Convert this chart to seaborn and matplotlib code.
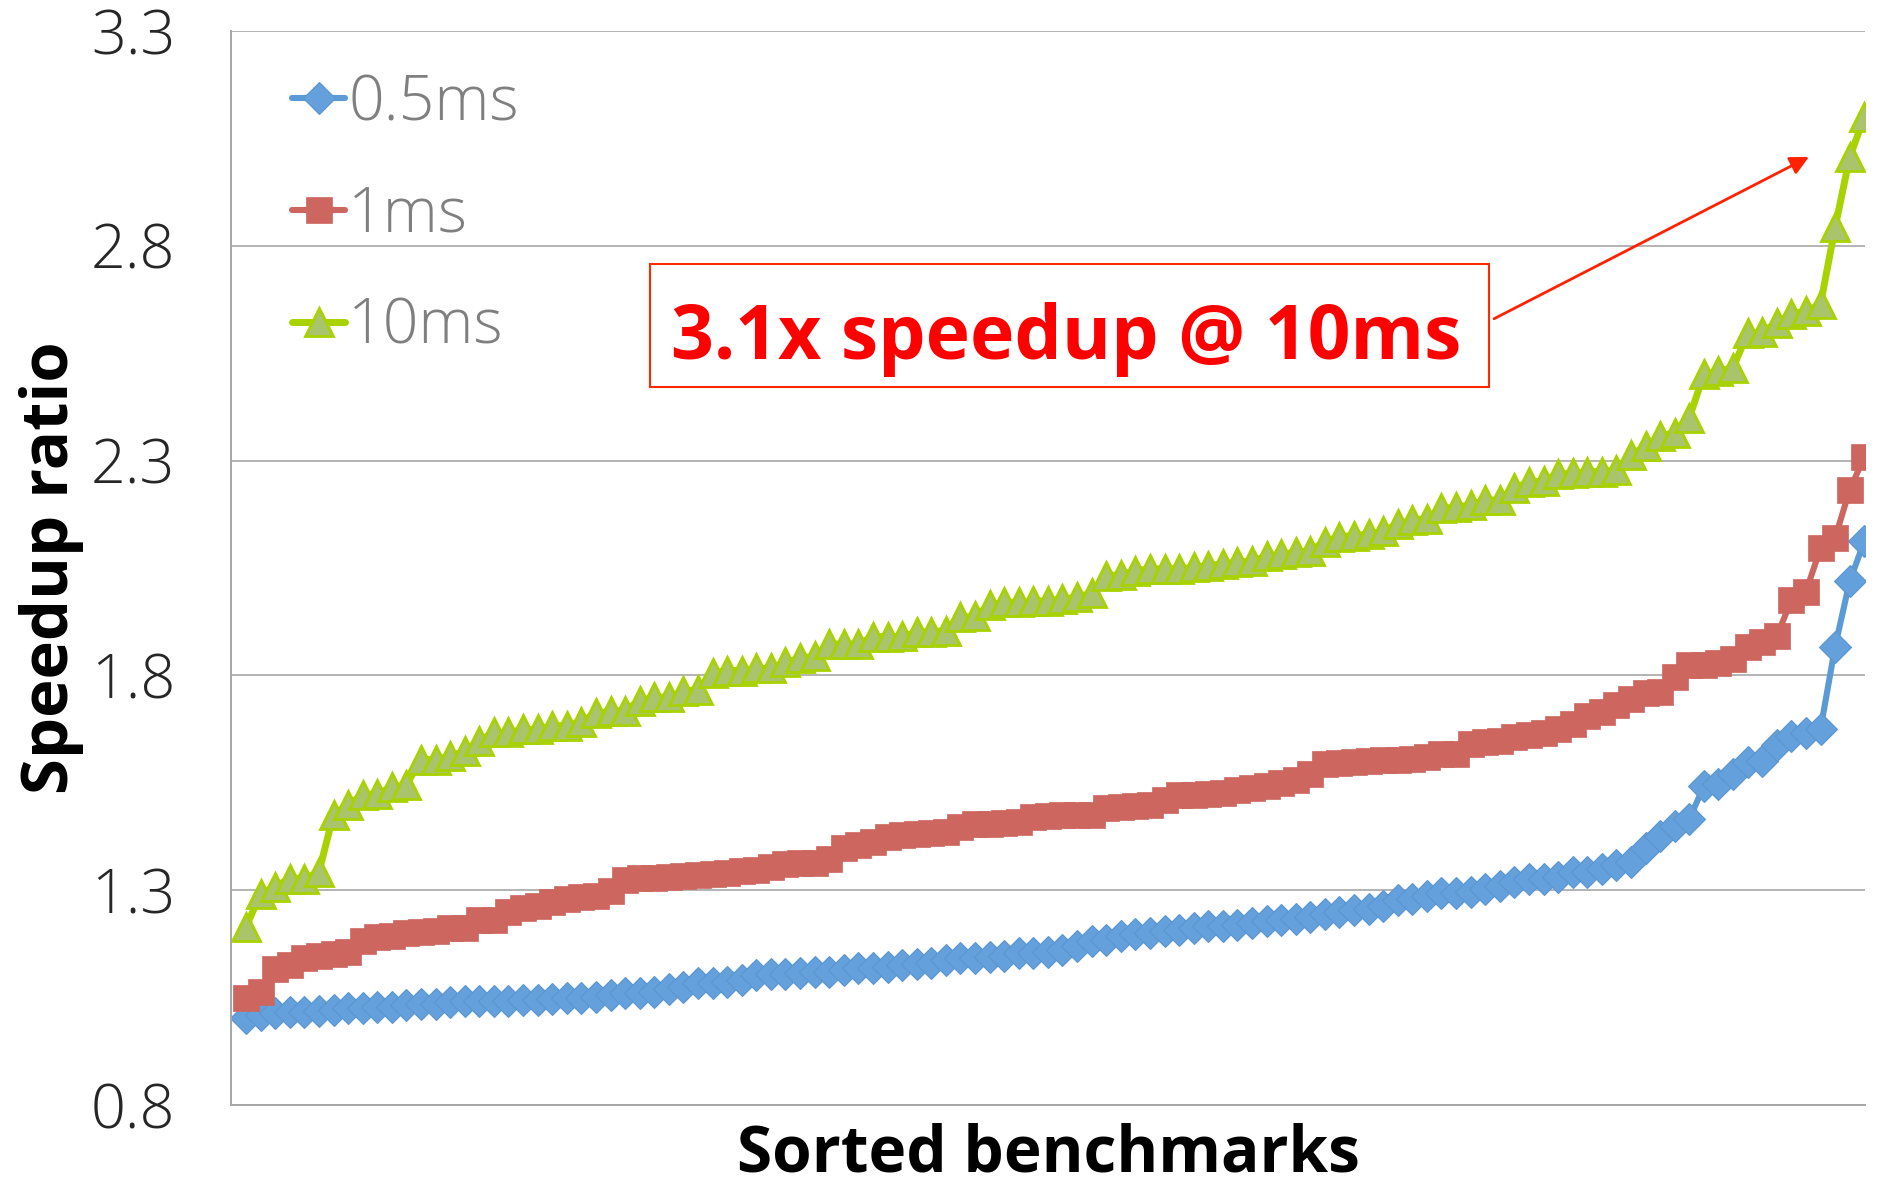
import numpy as np
import pandas as pd
import seaborn as sns
import matplotlib.pyplot as plt
from matplotlib.patches import Rectangle

# Speedup per benchmark (sorted ascending) for three time budgets
blue_05ms = [
    1.002, 1.009, 1.013, 1.017, 1.017, 1.019, 1.022, 1.025, 1.026, 1.029,
    1.029, 1.033, 1.035, 1.036, 1.040, 1.042, 1.042, 1.043, 1.043, 1.044,
    1.044, 1.046, 1.048, 1.050, 1.052, 1.056, 1.060, 1.061, 1.064, 1.069,
    1.075, 1.083, 1.084, 1.087, 1.091,
    1.102, 1.105, 1.105, 1.106, 1.109, 1.110, 1.114, 1.118, 1.118, 1.122,
    1.126, 1.127, 1.131, 1.137, 1.141, 1.141, 1.145, 1.147, 1.153, 1.153,
    1.157, 1.160, 1.170, 1.182, 1.184, 1.193, 1.199, 1.201, 1.205, 1.207,
    1.211, 1.216, 1.216, 1.219, 1.223, 1.229, 1.230, 1.233,
    1.237, 1.245, 1.250, 1.253, 1.257, 1.262, 1.278, 1.280, 1.286, 1.294,
    1.294, 1.295, 1.302, 1.310, 1.318, 1.326, 1.326, 1.330, 1.342, 1.342,
    1.350, 1.358, 1.366, 1.398, 1.426, 1.450, 1.466, 1.542, 1.546, 1.570,
    1.598, 1.600, 1.638, 1.658, 1.666, 1.675, 1.867, 2.019, 2.112,
]

red_1ms = [
    1.048, 1.063, 1.116, 1.125, 1.141, 1.147, 1.151, 1.156, 1.182, 1.190,
    1.193, 1.200, 1.203, 1.205, 1.211, 1.213, 1.230, 1.231, 1.248, 1.259,
    1.263, 1.273, 1.279, 1.283, 1.286, 1.297, 1.324, 1.328, 1.329, 1.331,
    1.333, 1.335, 1.337, 1.341, 1.345,
    1.347, 1.353, 1.360, 1.362, 1.364, 1.373, 1.398, 1.405, 1.412, 1.424,
    1.428, 1.430, 1.432, 1.436, 1.447, 1.453, 1.455, 1.457, 1.459, 1.470,
    1.473, 1.474, 1.474, 1.476, 1.491, 1.494, 1.496, 1.499, 1.509, 1.521,
    1.522, 1.523, 1.527, 1.533, 1.538, 1.543, 1.550, 1.556,
    1.570, 1.594, 1.596, 1.598, 1.601, 1.602, 1.604, 1.606, 1.610, 1.616,
    1.618, 1.640, 1.644, 1.646, 1.656, 1.660, 1.666, 1.676, 1.687, 1.705,
    1.715, 1.731, 1.745, 1.759, 1.761, 1.795, 1.823, 1.825, 1.829, 1.837,
    1.867, 1.877, 1.891, 1.975, 1.995, 2.096, 2.120, 2.232, 2.308,
]

green_10ms = [
    1.214, 1.292, 1.308, 1.327, 1.327, 1.342, 1.476, 1.499, 1.522, 1.524,
    1.540, 1.545, 1.604, 1.604, 1.612, 1.623, 1.648, 1.667, 1.667, 1.674,
    1.674, 1.683, 1.683, 1.692, 1.712, 1.716, 1.718, 1.741, 1.749, 1.749,
    1.764, 1.766, 1.805, 1.811, 1.811,
    1.816, 1.816, 1.830, 1.840, 1.844, 1.873, 1.873, 1.873, 1.890, 1.890,
    1.891, 1.900, 1.902, 1.904, 1.935, 1.937, 1.964, 1.970, 1.970, 1.972,
    1.974, 1.977, 1.982, 1.991, 2.032, 2.034, 2.044, 2.047, 2.048, 2.048,
    2.051, 2.055, 2.060, 2.063, 2.066, 2.077, 2.082, 2.086,
    2.090, 2.111, 2.123, 2.125, 2.129, 2.135, 2.153, 2.161, 2.165, 2.189,
    2.191, 2.197, 2.207, 2.209, 2.237, 2.249, 2.253, 2.268, 2.270, 2.274,
    2.274, 2.279, 2.314, 2.333, 2.357, 2.365, 2.400, 2.501, 2.508, 2.516,
    2.596, 2.599, 2.621, 2.641, 2.648, 2.664, 2.843, 3.006, 3.1,
]

series_labels = ["0.5ms", "1ms", "10ms"]
y_ticks = [0.8, 1.3, 1.8, 2.3, 2.8, 3.3]
callout_text = "3.1x speedup @ 10ms"

bench = np.arange(len(blue_05ms))
df = pd.DataFrame({
    "benchmark": np.tile(bench, 3),
    "speedup": blue_05ms + red_1ms + green_10ms,
    "budget": np.repeat(series_labels, len(bench)),
})

sns.set_theme(style="white")
plt.rcParams["font.family"] = ["Open Sans", "DejaVu Sans"]

fig = plt.figure(figsize=(18.89, 11.89), dpi=100)
ax = fig.add_axes([0.1223, 0.0707, 0.865, 0.9033])

styles = {
    "0.5ms": dict(color="#5b9bd5", marker="D", markersize=16.5,
                  markerfacecolor="#64a0dc", markeredgecolor="#5b96cf",
                  markeredgewidth=0.8, linewidth=4.4),
    "1ms": dict(color="#cd665f", marker="s", markersize=18.5,
                markerfacecolor="#cd665f", markeredgecolor="#cd665f",
                markeredgewidth=0.5, linewidth=4.4),
    "10ms": dict(color="#a8d200", marker="^", markersize=20.5,
                 markerfacecolor="#a9c46a", markeredgecolor="#a8d200",
                 markeredgewidth=2.0, linewidth=5.0),
}

for name in series_labels:
    sub = df[df["budget"] == name]
    sns.lineplot(data=sub, x="benchmark", y="speedup", ax=ax,
                 label=name, **styles[name])

ax.set_xlim(-1.03, len(bench) - 1 + 0.05)
ax.set_ylim(0.8, 3.3)
ax.set_yticks(y_ticks)
ax.set_yticklabels([f"{v:.1f}" for v in y_ticks])
ax.set_xticks([])

ax.yaxis.grid(True, color="#b3b3b3", linewidth=1.4)
ax.set_axisbelow(True)
for side in ("top", "right"):
    ax.spines[side].set_visible(False)
for side in ("left", "bottom"):
    ax.spines[side].set_color("#a6a6a6")
    ax.spines[side].set_linewidth(1.4)

ax.tick_params(axis="y", length=0, pad=40, labelsize=44)
for lbl in ax.get_yticklabels():
    lbl.set_fontweight("light")

ax.set_xlabel("Sorted benchmarks", fontsize=46, fontweight="bold",
              color="black", labelpad=13)
ax.set_ylabel("Speedup ratio", fontsize=47, fontweight="bold",
              color="black")
ax.yaxis.set_label_coords(-0.090, 0.5)

leg = ax.legend(loc="upper left", bbox_to_anchor=(0.022, 0.985),
                frameon=False, fontsize=45, handlelength=0.85,
                handletextpad=0.05, labelspacing=0.78, borderaxespad=0)
for t in leg.get_texts():
    t.set_color("#7f7f7f")
    t.set_fontweight("light")

# Callout box with arrow pointing at the top of the 10ms curve
ax.add_patch(Rectangle((0.2564, 0.6685), 0.5135, 0.1145,
                       transform=ax.transAxes, facecolor="white",
                       edgecolor="#ff2a00", linewidth=1.5, zorder=5))
ax.text(0.5114, 0.6946, callout_text, transform=ax.transAxes,
        ha="center", va="baseline", fontsize=54, fontweight="bold",
        color="#ff0000", zorder=6)
ax.annotate("", xy=(0.9657, 0.8827), xytext=(0.773, 0.732),
            xycoords="axes fraction", textcoords="axes fraction",
            arrowprops=dict(arrowstyle="-|>", color="#ff2200", lw=2,
                            mutation_scale=28, shrinkA=0, shrinkB=0),
            zorder=6)

fig.savefig("out.png", dpi=100)
